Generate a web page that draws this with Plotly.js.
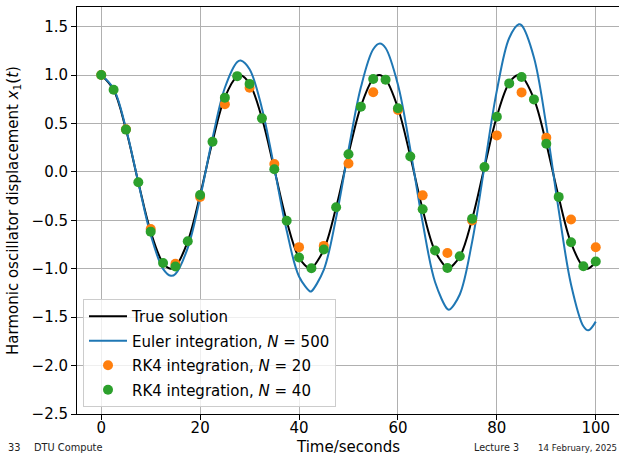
<!DOCTYPE html>
<html>
<head>
<meta charset="utf-8">
<script src="https://cdn.plot.ly/plotly-3.0.1.min.js"></script>
<style>
html,body{margin:0;padding:0;background:#fff;}
#chart{width:619px;height:457px;}
</style>
</head>
<body>
<div id="chart"></div>
<script>
// True solution
const tTrue = [0,2.5,5,7.5,10,12.5,14.05,15,17.5,20,22.5,25,27.5,28.1,30,32.5,35,37.5,40,42.15,42.5,45,47.5,50,52.5,55,56.2,57.5,60,62.5,65,67.5,70,70.25,72.5,75,77.5,80,82.5,84.3,85,87.5,90,92.5,95,97.5,98.35,100];
const xTrue = [1.000,0.848,0.437,-0.106,-0.617,-0.941,-1.000,-0.978,-0.717,-0.238,0.313,0.769,0.991,1.000,0.911,0.554,0.028,-0.507,-0.887,-1.000,-0.997,-0.804,-0.366,0.184,0.677,0.964,1.000,0.958,0.660,0.161,-0.387,-0.817,-0.999,-1.000,-0.876,-0.487,0.051,0.573,0.920,1.000,0.988,0.754,0.292,-0.260,-0.733,-0.982,-1.000,-0.933];

// Euler integration, N = 500
const tEuler = [0,2.5,5,7.5,10,12.5,14.1,15,17.5,20,22.5,25,27.5,28.2,30,32.5,35,37.5,40,42.25,42.5,45,47.5,50,52.5,55,56.35,57.5,60,62.5,65,67.5,70,70.4,72.5,75,77.5,80,82.5,84.45,85,87.5,90,92.5,95,97.5,98.5,100];
const xEuler = [1.000,0.859,0.449,-0.109,-0.648,-1.001,-1.073,-1.054,-0.784,-0.266,0.347,0.869,1.136,1.151,1.061,0.656,0.039,-0.606,-1.080,-1.235,-1.233,-1.011,-0.472,0.226,0.873,1.266,1.325,1.280,0.900,0.233,-0.523,-1.137,-1.416,-1.422,-1.266,-0.722,0.057,0.839,1.383,1.525,1.514,1.182,0.478,-0.392,-1.162,-1.594,-1.636,-1.546];

// RK4 integration, N = 20
const tRK20 = [0,5,10,15,20,25,30,35,40,45,50,55,60,65,70,75,80,85,90,95,100];
const xRK20 = [1.000,0.440,-0.590,-0.949,-0.259,0.699,0.869,0.081,-0.777,-0.764,0.087,0.823,0.639,-0.242,-0.837,-0.501,0.377,0.821,0.354,-0.491,-0.778];

// RK4 integration, N = 40
const tRK40 = [0,2.5,5,7.5,10,12.5,15,17.5,20,22.5,25,27.5,30,32.5,35,37.5,40,42.5,45,47.5,50,52.5,55,57.5,60,62.5,65,67.5,70,72.5,75,77.5,80,82.5,85,87.5,90,92.5,95,97.5,100];
const xRK40 = [1.000,0.848,0.437,-0.106,-0.617,-0.940,-0.977,-0.716,-0.238,0.312,0.767,0.989,0.909,0.553,0.028,-0.505,-0.884,-0.994,-0.801,-0.365,0.183,0.674,0.960,0.953,0.657,0.160,-0.385,-0.812,-0.993,-0.871,-0.484,0.050,0.569,0.914,0.981,0.749,0.290,-0.258,-0.727,-0.974,-0.925];

const xTicks = [0,20,40,60,80,100];
const yTicks = [-2.5,-2.0,-1.5,-1.0,-0.5,0.0,0.5,1.0,1.5];

const FONT = 'DejaVu Sans, sans-serif';
const FS = 15;

const traces = [
  {x:tTrue, y:xTrue, mode:'lines', name:'True solution', legendgroup:'a',
   line:{color:'#000000', width:2, shape:'spline', smoothing:1}},
  {x:tEuler, y:xEuler, mode:'lines', name:'Euler integration, <i>N</i> = 500', legendgroup:'b',
   line:{color:'#1f77b4', width:2, shape:'spline', smoothing:1}},
  {x:tRK20, y:xRK20, mode:'markers', name:'RK4 integration, <i>N</i> = 20', legendgroup:'c',
   marker:{color:'#ff7f0e', size:10}},
  {x:tRK40, y:xRK40, mode:'markers', name:'RK4 integration, <i>N</i> = 40', legendgroup:'d',
   marker:{color:'#2ca02c', size:10}}
];

const plotBottom = 414, plotH = 407, plotL = 77, plotW = 542;
function px2paperX(px){ return (px - plotL)/plotW; }
function px2paperY(py){ return (plotBottom - py)/plotH; }

const layout = {
  width:619, height:457,
  margin:{l:plotL, r:0, t:7, b:43, pad:0},
  paper_bgcolor:'#ffffff', plot_bgcolor:'#ffffff',
  font:{family:FONT, size:FS, color:'#000'},
  showlegend:true,
  legend:{x:px2paperX(83), y:px2paperY(407), xanchor:'left', yanchor:'bottom',
          bgcolor:'rgba(255,255,255,0.8)', bordercolor:'#cccccc', borderwidth:1,
          itemwidth:38,
          font:{family:FONT, size:FS, color:'#000'}, traceorder:'grouped', tracegroupgap:2},
  xaxis:{range:[-4.9,104.7], tickvals:xTicks, ticktext:xTicks.map(String),
         showgrid:true, gridcolor:'#b0b0b0', gridwidth:1, zeroline:false,
         showline:true, linecolor:'#000', linewidth:1, mirror:true,
         ticks:'outside', ticklen:5, tickwidth:1, tickcolor:'#000',
         ticklabelstandoff:-5,
         tickfont:{family:FONT, size:FS, color:'#000'}},
  yaxis:{range:[-2.5,1.703], tickvals:yTicks, tickformat:'.1f',
         showgrid:true, gridcolor:'#b0b0b0', gridwidth:1, zeroline:false,
         showline:true, linecolor:'#000', linewidth:1, mirror:false,
         ticks:'outside', ticklen:5, tickwidth:1, tickcolor:'#000',
         tickfont:{family:FONT, size:FS, color:'#000'},
         title:{text:'Harmonic oscillator displacement <i>x</i><sub>1</sub>(<i>t</i>)', font:{family:FONT, size:FS, color:'#000'}, standoff:9}},
  annotations:[
    {xref:'paper', yref:'paper', x:0.5, y:px2paperY(457), xanchor:'center', yanchor:'bottom',
     text:'Time/seconds', showarrow:false, borderpad:0, font:{family:FONT, size:FS, color:'#000'}},
    {xref:'paper', yref:'paper', x:px2paperX(6), y:px2paperY(448), xanchor:'left', yanchor:'middle',
     text:'33', showarrow:false, font:{family:FONT, size:9.8, color:'#222'}},
    {xref:'paper', yref:'paper', x:px2paperX(32), y:px2paperY(448), xanchor:'left', yanchor:'middle',
     text:'DTU Compute', showarrow:false, font:{family:FONT, size:9.8, color:'#222'}},
    {xref:'paper', yref:'paper', x:px2paperX(472), y:px2paperY(448), xanchor:'left', yanchor:'middle',
     text:'Lecture 3', showarrow:false, font:{family:FONT, size:9.6, color:'#222'}},
    {xref:'paper', yref:'paper', x:px2paperX(619), y:px2paperY(448), xanchor:'right', yanchor:'middle',
     text:'14 February, 2025', showarrow:false, font:{family:FONT, size:8.6, color:'#222'}}
  ]
};

Plotly.newPlot('chart', traces, layout, {displayModeBar:false, staticPlot:true});
</script>
</body>
</html>
